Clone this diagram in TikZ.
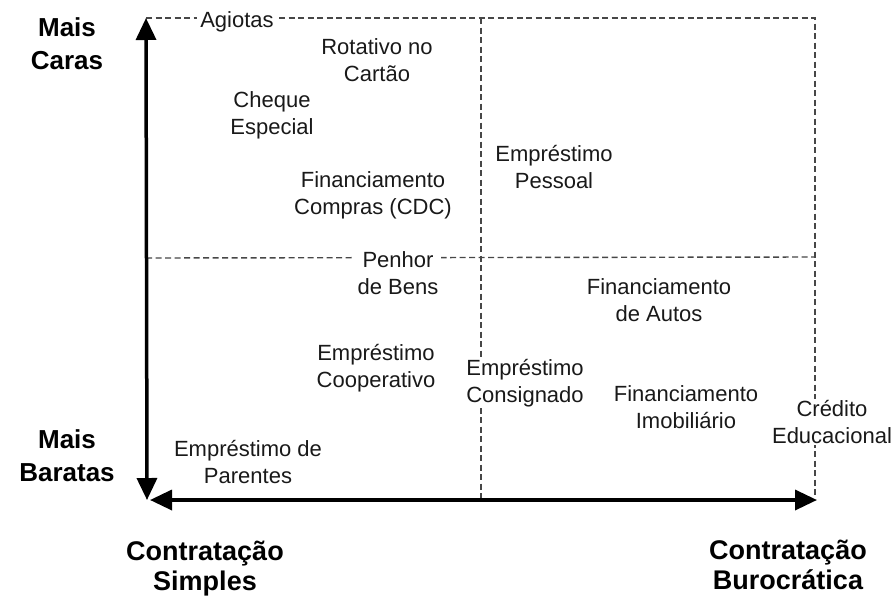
\documentclass[tikz,border=0pt]{standalone}
\usepackage{fontspec}
\setmainfont{Liberation Sans}
\usetikzlibrary{arrows.meta}
\begin{document}
\begin{tikzpicture}[x=1pt,y=-1pt,
  lbl/.style={align=center,font=\fontsize{22}{27}\selectfont,inner sep=1pt,text=black!90},
  onl/.style={lbl,fill=white},
  boldlbl/.style={align=center,font=\fontsize{26}{33}\selectfont\bfseries,inner sep=0pt},
  xlbl/.style={align=center,font=\fontsize{27}{30}\selectfont\bfseries,inner sep=0pt},
  gridline/.style={dash pattern=on 6pt off 3.5pt, line width=1.4pt, black!72},
  axis/.style={line width=3.5pt, {Triangle[width=20pt,length=22pt]}-{Triangle[width=20pt,length=22pt]}}]
\useasboundingbox (0,0) rectangle (894,595);
% grid coordinates
\coordinate (TL) at (146,18);
\coordinate (TR) at (815,18);
\coordinate (BR) at (815,498);
\coordinate (ML) at (146,258);
\coordinate (MR) at (815,257);
\coordinate (MT) at (481,18);
\coordinate (MB) at (481,500);
% axis coordinates
\coordinate (Ytop) at (146,18);
\coordinate (Ybot) at (147,500);
\coordinate (Xl) at (150,500);
\coordinate (Xr) at (817,500);
% dashed grid
\draw[gridline] (TL) -- (TR) -- (BR);
\draw[gridline] (ML) -- (MR);
\draw[gridline] (MT) -- (MB);
% axes
\draw[axis] (Ybot) -- (Ytop);
\draw[axis] (Xl) -- (Xr);
% labels in the chart
\node[onl,inner xsep=3pt] (agiotas) at (237,22.3) {Agiotas};
\node[lbl] (rotativo) at (377,60.6) {Rotativo no\\Cartão};
\node[lbl] (cheque) at (272,115.8) {Cheque\\Especial};
\node[lbl] (cdc) at (373,195.8) {Financiamento\\Compras (CDC)};
\node[lbl] (pessoal) at (554,167.5) {Empréstimo\\Pessoal};
\node[onl,inner xsep=3pt] (penhor) at (398,273) {Penhor\\de Bens};
\node[lbl] (autos) at (659,300.5) {Financiamento\\de Autos};
\node[lbl] (coop) at (376,367.8) {Empréstimo\\Cooperativo};
\node[onl] (consig) at (525,382.8) {Empréstimo\\Consignado};
\node[lbl] (imob) at (686,407) {Financiamento\\Imobiliário};
\node[onl] (educ) at (832,422) {Crédito\\Educacional};
\node[lbl] (parentes) at (248,462) {Empréstimo de\\Parentes};
% axis labels
\node[boldlbl] (caras) at (67,44.2) {Mais\\Caras};
\node[boldlbl] (baratas) at (67,455.7) {Mais\\Baratas};
\node[xlbl] (simples) at (205,568.2) {Contratação\\Simples};
\node[xlbl] (buro) at (788,564.9) {Contratação\\Burocrática};
\end{tikzpicture}
\end{document}
